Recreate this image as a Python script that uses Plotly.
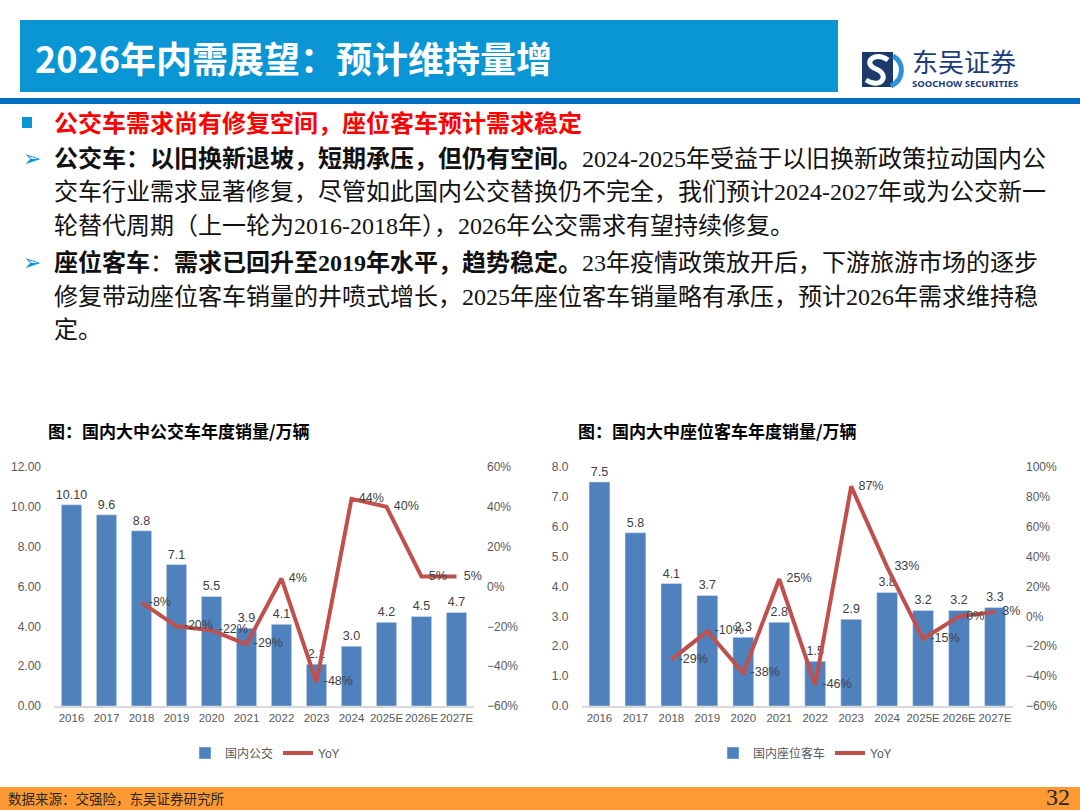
import plotly.graph_objects as go

# ---- data ----
years = ["2016", "2017", "2018", "2019", "2020", "2021", "2022", "2023", "2024", "2025E", "2026E", "2027E"]

bus_sales = [10.10, 9.6, 8.8, 7.1, 5.5, 3.9, 4.1, 2.1, 3.0, 4.2, 4.5, 4.7]
bus_labels = ["10.10", "9.6", "8.8", "7.1", "5.5", "3.9", "4.1", "2.1", "3.0", "4.2", "4.5", "4.7"]
bus_yoy = [None, None, -0.08, -0.20, -0.22, -0.29, 0.04, -0.48, 0.44, 0.40, 0.05, 0.05]

coach_sales = [7.5, 5.8, 4.1, 3.7, 2.3, 2.8, 1.5, 2.9, 3.8, 3.2, 3.2, 3.3]
coach_yoy = [None, None, -0.29, -0.10, -0.38, 0.25, -0.46, 0.87, 0.33, -0.15, 0.00, 0.03]

W, H = 1080, 810
BLUE_BAR = "#4F81BD"
RED_LINE = "#C0504D"
AX_FONT = dict(family="Liberation Sans, Noto Sans CJK SC", size=12, color="#595959")
X_FONT = dict(family="Liberation Sans, Noto Sans CJK SC", size=11.5, color="#595959")
LBL_FONT = dict(family="Liberation Sans, Noto Sans CJK SC", size=12.5, color="#404040")


def px(x):
    return x / W


def py(y):
    return 1 - y / H


fig = go.Figure()

# left chart: bus
fig.add_trace(go.Bar(
    x=years, y=bus_sales, name="国内公交", text=bus_labels,
    textposition="outside", outsidetextfont=LBL_FONT, cliponaxis=False, constraintext="none",
    marker_color=BLUE_BAR, width=0.58, xaxis="x", yaxis="y", legend="legend"
))
fig.add_trace(go.Scatter(
    x=years, y=bus_yoy, name="YoY", mode="lines+markers+text",
    texttemplate="%{y:.0%}", textposition="middle right", textfont=LBL_FONT,
    line=dict(color=RED_LINE, width=4), marker=dict(size=10, color="rgba(0,0,0,0)"),
    cliponaxis=False, xaxis="x", yaxis="y2", legend="legend"
))

# right chart: coach
fig.add_trace(go.Bar(
    x=years, y=coach_sales, name="国内座位客车", texttemplate="%{y:.1f}",
    textposition="outside", outsidetextfont=LBL_FONT, cliponaxis=False, constraintext="none",
    marker_color=BLUE_BAR, width=0.58, xaxis="x2", yaxis="y3", legend="legend2"
))
fig.add_trace(go.Scatter(
    x=years, y=coach_yoy, name="YoY", mode="lines+markers+text",
    texttemplate="%{y:.0%}", textposition="middle right", textfont=LBL_FONT,
    line=dict(color=RED_LINE, width=4), marker=dict(size=10, color="rgba(0,0,0,0)"),
    cliponaxis=False, xaxis="x2", yaxis="y4", legend="legend2"
))

ydom = [py(706), py(467)]
xcommon = dict(type="category", range=[-0.5, len(years) - 0.5], showline=True,
               linecolor="#D9D9D9", linewidth=1.5, ticks="", showgrid=False,
               tickfont=X_FONT, tickangle=0, fixedrange=True)
ycommon = dict(showgrid=False, zeroline=False, showline=False, ticks="",
               tickfont=AX_FONT, ticklabelstandoff=12, fixedrange=True)

fig.update_layout(
    width=W, height=H,
    margin=dict(l=0, r=0, t=0, b=0, autoexpand=False),
    paper_bgcolor="white", plot_bgcolor="white",
    font=dict(family="Liberation Sans, Noto Sans CJK SC"),
    xaxis=dict(domain=[px(54), px(474)], anchor="y", **xcommon),
    yaxis=dict(domain=ydom, anchor="x", range=[0, 12], dtick=2, tickformat=".2f", **ycommon),
    yaxis2=dict(overlaying="y", side="right", anchor="x", range=[-0.6, 0.6], dtick=0.2,
                tickformat=".0%", **ycommon),
    xaxis2=dict(domain=[px(581.5), px(1013)], anchor="y3", **xcommon),
    yaxis3=dict(domain=ydom, anchor="x2", range=[0, 8], dtick=1, tickformat=".1f", **ycommon),
    yaxis4=dict(overlaying="y3", side="right", anchor="x2", range=[-0.6, 1.0], dtick=0.2,
                tickformat=".0%", **ycommon),
    legend=dict(x=px(265), y=py(753), xanchor="center", yanchor="middle",
                orientation="h", font=AX_FONT, bgcolor="rgba(0,0,0,0)"),
    legend2=dict(x=px(805), y=py(753), xanchor="center", yanchor="middle",
                 orientation="h", font=AX_FONT, bgcolor="rgba(0,0,0,0)"),
)

# ---- page decoration ----
shapes = [
    # header box
    dict(type="rect", xref="paper", yref="paper", x0=px(20), x1=px(838), y0=py(92), y1=py(20),
         fillcolor="#0A96D4", line_width=0, layer="below"),
    # header underline
    dict(type="rect", xref="paper", yref="paper", x0=0, x1=1, y0=py(104), y1=py(98),
         fillcolor="#0070C0", line_width=0, layer="below"),
    # square bullet
    dict(type="rect", xref="paper", yref="paper", x0=px(22), x1=px(32), y0=py(128), y1=py(117),
         fillcolor="#0A96D4", line_width=0),
    # footer bar
    dict(type="rect", xref="paper", yref="paper", x0=0, x1=1, y0=0, y1=py(787),
         fillcolor="#FF9933", line_width=0, layer="below"),
    # logo icon
    dict(type="rect", xref="paper", yref="paper", x0=px(862), x1=px(893), y0=py(87), y1=py(52),
         fillcolor="#1B3A6B", line_width=0),
]


def path(points):
    s = "M {} {}".format(px(points[0][0]), py(points[0][1]))
    for i in range(1, len(points), 3):
        a, b, c = points[i:i + 3]
        s += " C {} {}, {} {}, {} {}".format(px(a[0]), py(a[1]), px(b[0]), py(b[1]), px(c[0]), py(c[1]))
    return s


shapes.append(dict(type="path", xref="paper", yref="paper",
                   path=path([(888, 60), (874, 50), (862, 64), (876, 69),
                              (890, 74), (882, 90), (866, 80)]),
                   line=dict(color="white", width=5)))
shapes.append(dict(type="path", xref="paper", yref="paper",
                   path=path([(893, 56), (905, 62), (904, 80), (891, 86)]),
                   line=dict(color="#2F8FD8", width=5)))
fig.update_layout(shapes=shapes)


def note(x, y, text, size, color="#000000", family="Noto Sans CJK SC", xanchor="left"):
    fig.add_annotation(x=px(x), y=py(y), xref="paper", yref="paper", text=text,
                       showarrow=False, xanchor=xanchor, yanchor="middle",
                       font=dict(family=family, size=size, color=color))


note(33, 57, "<b>2026年内需展望：预计维持量增</b>", 36, "white")
note(910, 60, "东吴证券", 26, "#1C3C78")
note(910, 83, "<b>SOOCHOW SECURITIES</b>", 9.5, "#1C3C78", "Noto Sans")

note(52, 122, "<b>公交车需求尚有修复空间，座位客车预计需求稳定</b>", 24, "#FF0000")

body_font = "Liberation Serif, Noto Sans CJK SC"
body_lines = [
    (158, "<b>公交车：以旧换新退坡，短期承压，但仍有空间。</b>2024-2025年受益于以旧换新政策拉动国内公"),
    (192, "交车行业需求显著修复，尽管如此国内公交替换仍不完全，我们预计2024-2027年或为公交新一"),
    (226, "轮替代周期（上一轮为2016-2018年），2026年公交需求有望持续修复。"),
    (262, "<b>座位客车</b>：<b>需求已回升至2019年水平，趋势稳定。</b>23年疫情政策放开后，下游旅游市场的逐步"),
    (297, "修复带动座位客车销量的井喷式增长，2025年座位客车销量略有承压，预计2026年需求维持稳"),
    (330, "定。"),
]
for y, t in body_lines:
    note(52, y, t, 24, "#111111", body_font)
for y in (158, 262):
    note(21, y, "➢", 22, "#0A96D4", "DejaVu Sans")

note(46, 430, "<b>图：国内大中公交车年度销量/万辆</b>", 17)
note(576, 430, "<b>图：国内大中座位客车年度销量/万辆</b>", 17)

note(6, 798, "数据来源：交强险，东吴证券研究所", 13.5, "#262626")
note(1072, 797, "32", 24, "#262626", "Liberation Serif", xanchor="right")

# the page's default body margin would push the figure off the 1080x810 window
fig.write_html("out.html", config={"displayModeBar": False},
               post_script="document.body.style.margin = '0';")
